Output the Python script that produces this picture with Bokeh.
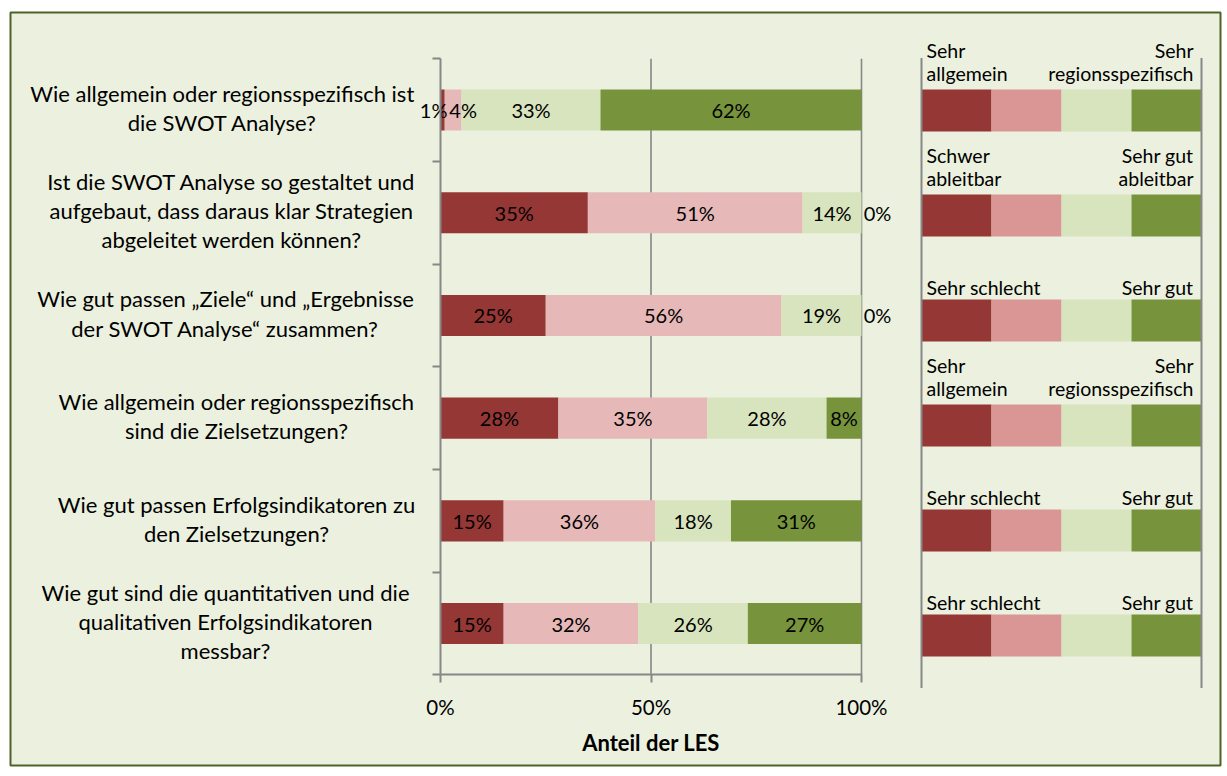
from bokeh.plotting import figure
from bokeh.models import (ColumnDataSource, LinearAxis, FixedTicker, PrintfTickFormatter,
                          CustomJSTickFormatter, Range1d)
from bokeh.core.properties import value
from bokeh.embed import file_html
from bokeh.resources import INLINE

# ---------------- data ----------------
questions = [
    "Wie allgemein oder regionsspezifisch ist\ndie SWOT Analyse?",
    "Ist die SWOT Analyse so gestaltet und\naufgebaut, dass daraus klar Strategien\nabgeleitet werden können?",
    "Wie gut passen \u201eZiele\u201c und \u201eErgebnisse\nder SWOT Analyse\u201c zusammen?",
    "Wie allgemein oder regionsspezifisch\nsind die Zielsetzungen?",
    "Wie gut passen Erfolgsindikatoren zu\nden Zielsetzungen?",
    "Wie gut sind die quantitativen und die\nqualitativen Erfolgsindikatoren\nmessbar?",
]
s_sehr_negativ = [1, 35, 25, 28, 15, 15]
s_eher_negativ = [4, 51, 56, 35.4, 36, 32]
s_eher_positiv = [33, 14, 19, 28.3, 18, 26]
s_sehr_positiv = [62, 0, 0, 8.3, 31, 27]
x_ticks = [0, 50, 100]
x_title = "Anteil der LES"
scale_left = ["Sehr\nallgemein", "Schwer\nableitbar", "Sehr schlecht",
              "Sehr\nallgemein", "Sehr schlecht", "Sehr schlecht"]
scale_right = ["Sehr\nregionsspezifisch", "Sehr gut\nableitbar", "Sehr gut",
               "Sehr\nregionsspezifisch", "Sehr gut", "Sehr gut"]

# ---------------- styles / layout ----------------
bar_colors = ["#953735", "#E6B9B8", "#D7E4BD", "#77933C"]
legend_colors = ["#953735", "#D99694", "#D7E4BD", "#77933C"]
BG = "#EBF1DE"
AXIS_GRAY = "#878787"
FONT = "Lato"

PX_PER_PCT = 4.21      # horizontal pixels per percent
X0_PAGE = 440          # page x of 0 %
PX_PER_CAT = 102.7     # vertical pixels per category band
Y0_PAGE = 674.4        # page y of the bottom of the category area
FR_L, FR_T, FR_R, FR_B = 10, 12, 1220, 765   # frame (inner box) on page
PAGE_W, PAGE_H = 1225, 774

def dx(px):  # page x -> data x
    return (px - X0_PAGE) / PX_PER_PCT

def dy(py):  # page y -> data y
    return (Y0_PAGE - py) / PX_PER_CAT

label_centers_px = [222, 231, 225, 236, 236, 225]
label_shift_px = {(0, 0): -9, (0, 1): 10, (1, 3): 16, (2, 3): 16}
legend_left_px, legend_right_px = 921, 1201
LEG_TOP_PX, LEG_BAND_PX, LEG_BAR_PX = 57.5, 105.0, 42.0
BAR_H = 0.4

n = len(questions)
ycent = [n - 0.5 - i for i in range(n)]
series = [s_sehr_negativ, s_eher_negativ, s_eher_positiv, s_sehr_positiv]

p = figure(width=PAGE_W, height=PAGE_H, output_backend="svg", toolbar_location=None,
           x_range=Range1d(dx(FR_L), dx(FR_R)), y_range=Range1d(dy(FR_B), dy(FR_T)),
           x_axis_location=None, y_axis_location=None,
           min_border_left=FR_L, min_border_top=FR_T,
           min_border_right=PAGE_W - FR_R, min_border_bottom=PAGE_H - FR_B,
           background_fill_color=BG, border_fill_color="white",
           outline_line_color="#4F6228", outline_line_width=2)
p.xgrid.visible = False
p.ygrid.visible = False

# grid lines at 50 % and 100 %
p.segment(x0=[50, 100], x1=[50, 100], y0=[0, 0], y1=[n, n],
          line_color=AXIS_GRAY, line_width=1.6)

# stacked bars + labels
lab_x, lab_y, lab_t, lab_off = [], [], [], []
left = [0.0] * n
for j, vals in enumerate(series):
    right = [l + v for l, v in zip(left, vals)]
    src = ColumnDataSource(dict(y=ycent, left=left, right=right))
    p.hbar(y="y", left="left", right="right", height=BAR_H, source=src,
           fill_color=bar_colors[j], line_color=None)
    for i in range(n):
        lab_x.append(left[i] + vals[i] / 2)
        lab_y.append(ycent[i])
        lab_t.append(f"{round(vals[i])}%")
        lab_off.append(label_shift_px.get((i, j), 0))
    left = right

p.text(x="x", y="y", text="t", x_offset="off",
       source=ColumnDataSource(dict(x=lab_x, y=lab_y, t=lab_t, off=lab_off)),
       text_align="center", text_baseline="middle", text_font=value(FONT),
       text_font_size="20px", text_color="black")

# category labels
p.text(x=[dx(c) for c in label_centers_px], y=ycent, text=questions, y_offset=-2,
       text_align="center", text_baseline="middle", text_font=value(FONT),
       text_font_size="22px", text_color="black", text_line_height=1.08)

# legend panel (scale explanation) -- its own band spacing
lx0, lx1 = dx(legend_left_px), dx(legend_right_px)
seg = (lx1 - lx0) / 4
leg_y = [dy(LEG_TOP_PX + LEG_BAND_PX * (i + 0.5)) for i in range(n)]
leg_h = LEG_BAR_PX / PX_PER_CAT
for k in range(4):
    p.hbar(y=leg_y, left=lx0 + k * seg, right=lx0 + (k + 1) * seg, height=leg_h,
           fill_color=legend_colors[k], line_color=None)
p.segment(x0=[lx0, lx1], x1=[lx0, lx1],
          y0=[dy(LEG_TOP_PX + LEG_BAND_PX * n)] * 2, y1=[dy(LEG_TOP_PX)] * 2,
          line_color=AXIS_GRAY, line_width=2)
leg_top = [y + leg_h / 2 for y in leg_y]
for txt, xx, align in ((scale_left, lx0 + 5 / PX_PER_PCT, "left"),
                       (scale_right, lx1 - 8 / PX_PER_PCT, "right")):
    yoff = [-4 if "\n" in t else -1 for t in txt]
    p.text(x="x", y="y", text="t", y_offset="yo",
           source=ColumnDataSource(dict(x=[xx] * n, y=leg_top, t=txt, yo=yoff)),
           text_align=align, text_baseline="bottom", text_font=value(FONT),
           text_font_size="19.5px", text_color="black", text_line_height=1.03)

# axes
xaxis = LinearAxis(fixed_location=0, bounds=(0, 100), ticker=FixedTicker(ticks=x_ticks),
                   formatter=PrintfTickFormatter(format="%d%%"), axis_label=x_title)
xaxis.axis_line_color = AXIS_GRAY
xaxis.axis_line_width = 2
xaxis.major_tick_line_color = AXIS_GRAY
xaxis.major_tick_line_width = 2
xaxis.major_tick_out = 8
xaxis.major_tick_in = 0
xaxis.minor_tick_out = 0
xaxis.major_label_text_font = FONT
xaxis.major_label_text_font_size = "20.5px"
xaxis.major_label_text_color = "black"
xaxis.major_label_standoff = 12
xaxis.axis_label_text_font = FONT
xaxis.axis_label_text_font_size = "22px"
xaxis.axis_label_text_font_style = "bold"
xaxis.axis_label_text_color = "black"
xaxis.axis_label_standoff = 7
p.add_layout(xaxis, "below")

yaxis = LinearAxis(fixed_location=0, bounds=(0, n), ticker=FixedTicker(ticks=list(range(n + 1))),
                   formatter=CustomJSTickFormatter(code="return ''"))
yaxis.axis_line_color = AXIS_GRAY
yaxis.axis_line_width = 2
yaxis.major_tick_line_color = AXIS_GRAY
yaxis.major_tick_line_width = 2
yaxis.major_tick_out = 8
yaxis.major_tick_in = 0
yaxis.minor_tick_out = 0
p.add_layout(yaxis, "left")

open("out.html", "w").write(file_html(p, INLINE))
